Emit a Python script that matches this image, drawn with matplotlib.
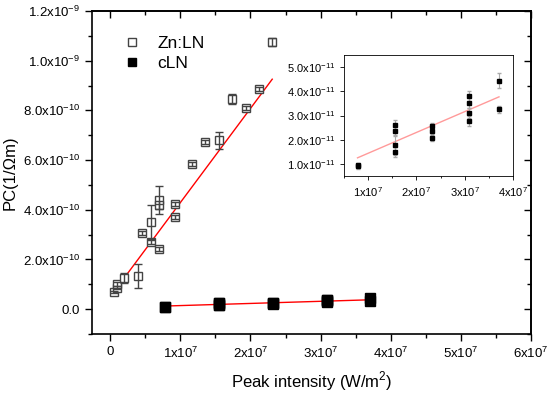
import matplotlib
matplotlib.use("Agg")
import matplotlib.pyplot as plt
import numpy as np
from matplotlib.ticker import FixedLocator, FixedFormatter, MultipleLocator
from matplotlib.lines import Line2D

plt.rcParams['font.family'] = ['Liberation Sans', 'DejaVu Sans']
plt.rcParams['mathtext.fontset'] = 'custom'
plt.rcParams['mathtext.rm'] = 'Liberation Sans'

# Zn:LN data
zn_x = np.array([0.06, 0.09, 0.10, 0.19, 0.39, 0.46, 0.575, 0.575, 0.69, 0.69, 0.69,
                 0.92, 0.92, 1.16, 1.35, 1.55, 1.74, 1.93, 2.12, 2.31]) * 1e7
zn_y = np.array([0.70, 0.87, 1.03, 1.27, 1.34, 3.07, 2.71, 3.51, 2.44, 4.19, 4.39,
                 3.71, 4.25, 5.86, 6.73, 6.80, 8.45, 8.10, 8.88, 10.76]) * 1e-10
zn_err = np.array([0.05, 0.05, 0.08, 0.2, 0.47, 0.08, 0.08, 0.7, 0.08, 0.15, 0.55,
                   0.08, 0.08, 0.08, 0.08, 0.35, 0.2, 0.08, 0.08, 0.15]) * 1e-10
zn_fit = (3.79e-17, 0.5e-10)
zn_fit_range = (0.07e7, 2.31e7)

# cLN data
cln_x = np.array([0.78, 0.78, 1.55, 1.55, 1.55, 1.55, 2.32, 2.32, 2.32,
                  3.09, 3.09, 3.09, 3.09, 3.71, 3.71]) * 1e7
cln_y = np.array([0.90, 0.95, 2.60, 2.38, 1.77, 1.49, 2.55, 2.35, 2.09,
                  3.80, 3.52, 3.10, 2.78, 4.44, 3.26]) * 1e-11
cln_err = np.array([0.1, 0.1, 0.2, 0.2, 0.4, 0.2, 0.15, 0.15, 0.15,
                    0.2, 0.2, 0.2, 0.2, 0.3, 0.15]) * 1e-11
cln_fit = (8.6e-19, 0.58e-11)
cln_fit_range = (0.78e7, 3.71e7)

main_xticks = [0, 1e7, 2e7, 3e7, 4e7, 5e7, 6e7]
main_xlabels = ['0', r'1x10$^{7}$', r'2x10$^{7}$', r'3x10$^{7}$', r'4x10$^{7}$',
                r'5x10$^{7}$', r'6x10$^{7}$']
main_yticks = [0, 2e-10, 4e-10, 6e-10, 8e-10, 1e-9, 1.2e-9]
main_ylabels = ['0.0', r'2.0x10$^{-10}$', r'4.0x10$^{-10}$', r'6.0x10$^{-10}$',
                r'8.0x10$^{-10}$', r'1.0x10$^{-9}$', r'1.2x10$^{-9}$']
inset_xticks = [1e7, 2e7, 3e7, 4e7]
inset_xlabels = [r'1x10$^{7}$', r'2x10$^{7}$', r'3x10$^{7}$', r'4x10$^{7}$']
inset_yticks = [1e-11, 2e-11, 3e-11, 4e-11, 5e-11]
inset_ylabels = [r'1.0x10$^{-11}$', r'2.0x10$^{-11}$', r'3.0x10$^{-11}$',
                 r'4.0x10$^{-11}$', r'5.0x10$^{-11}$']

fig = plt.figure(figsize=(5.5, 3.98), dpi=100)
ax = fig.add_axes([92/550, 1-334/398, (531-92)/550, (334-11)/398])

ax.plot(zn_x, zn_y, 's', mfc='white', mec='#444444', mew=1.0, ms=6, zorder=3)
ax.errorbar(zn_x, zn_y, yerr=zn_err, fmt='none', ecolor='#444444', elinewidth=1.0,
            capsize=3, zorder=4)
ax.plot(cln_x, cln_y, 's', mfc='black', mec='black', ms=6.5, zorder=3)
ax.errorbar(cln_x, cln_y, yerr=cln_err, fmt='none', ecolor='black', elinewidth=1.0,
            capsize=3, zorder=4)
fx = np.array(zn_fit_range)
ax.plot(fx, zn_fit[0]*fx + zn_fit[1], color='red', lw=1.0, zorder=2)
fx2 = np.array(cln_fit_range)
ax.plot(fx2, cln_fit[0]*fx2 + cln_fit[1], color='red', lw=1.0, zorder=2)

ax.set_xlim(-0.26e7, 6e7)
ax.set_ylim(-1.0e-10, 1.2e-9)
ax.xaxis.set_major_locator(FixedLocator(main_xticks))
ax.xaxis.set_major_formatter(FixedFormatter(main_xlabels))
ax.xaxis.set_minor_locator(MultipleLocator(0.5e7))
ax.yaxis.set_major_locator(FixedLocator(main_yticks))
ax.yaxis.set_major_formatter(FixedFormatter(main_ylabels))
ax.yaxis.set_minor_locator(MultipleLocator(1e-10))
ax.tick_params(which='both', direction='out', labelsize=9.5, width=1.0)
ax.tick_params(which='major', length=5)
ax.tick_params(which='minor', length=3)
for sp in ax.spines.values():
    sp.set_linewidth(1.2)
ax.set_xlabel(r'Peak intensity (W/m$^{2}$)', fontsize=12, labelpad=6)
ax.set_ylabel('PC(1/Ωm)', fontsize=12, labelpad=4)

# top/right ticks inward
sec_x = ax.secondary_xaxis('top')
sec_x.xaxis.set_major_locator(FixedLocator(main_xticks))
sec_x.xaxis.set_minor_locator(MultipleLocator(0.5e7))
sec_x.tick_params(which='both', direction='in', labeltop=False, width=1.0)
sec_x.tick_params(which='major', length=5)
sec_x.tick_params(which='minor', length=3)
sec_y = ax.secondary_yaxis('right')
sec_y.yaxis.set_major_locator(FixedLocator(main_yticks))
sec_y.yaxis.set_minor_locator(MultipleLocator(1e-10))
sec_y.tick_params(which='both', direction='in', labelright=False, width=1.0)
sec_y.tick_params(which='major', length=5)
sec_y.tick_params(which='minor', length=3)
sec_x.spines['top'].set_linewidth(1.2)
sec_y.spines['right'].set_linewidth(1.2)

h1 = Line2D([], [], marker='s', ls='none', mfc='white', mec='#444444', mew=1.0, ms=6)
h2 = Line2D([], [], marker='s', ls='none', mfc='black', mec='black', ms=6)
ax.legend([h1, h2], ['Zn:LN', 'cLN'], loc='upper left', frameon=False,
          fontsize=12.5, bbox_to_anchor=(0.035, 0.97), handlelength=1.0,
          handletextpad=1.0, labelspacing=0.25)

# inset
ax2 = fig.add_axes([344/550, 1-176/398, (513-344)/550, (176-55)/398])
ax2.errorbar(cln_x, cln_y, yerr=cln_err, fmt='s', mfc='black', mec='black', ms=3,
             ecolor='#aaaaaa', elinewidth=0.8, capsize=1.5, zorder=3)
ax2.plot(fx2, cln_fit[0]*fx2 + cln_fit[1], color='#ff9a9a', lw=1.0, zorder=2)
ax2.set_xlim(0.5e7, 4e7)
ax2.set_ylim(0.5e-11, 5.5e-11)
ax2.xaxis.set_major_locator(FixedLocator(inset_xticks))
ax2.xaxis.set_major_formatter(FixedFormatter(inset_xlabels))
ax2.xaxis.set_minor_locator(MultipleLocator(0.5e7))
ax2.yaxis.set_major_locator(FixedLocator(inset_yticks))
ax2.yaxis.set_major_formatter(FixedFormatter(inset_ylabels))
ax2.yaxis.set_minor_locator(MultipleLocator(0.5e-11))
ax2.tick_params(which='both', direction='out', labelsize=8, width=0.6)
ax2.tick_params(which='major', length=3)
ax2.tick_params(which='minor', length=1.5)
ax2.tick_params(axis='y', which='minor', left=False)
for sp in ax2.spines.values():
    sp.set_linewidth(0.6)

fig.savefig('out.png', dpi=100)
